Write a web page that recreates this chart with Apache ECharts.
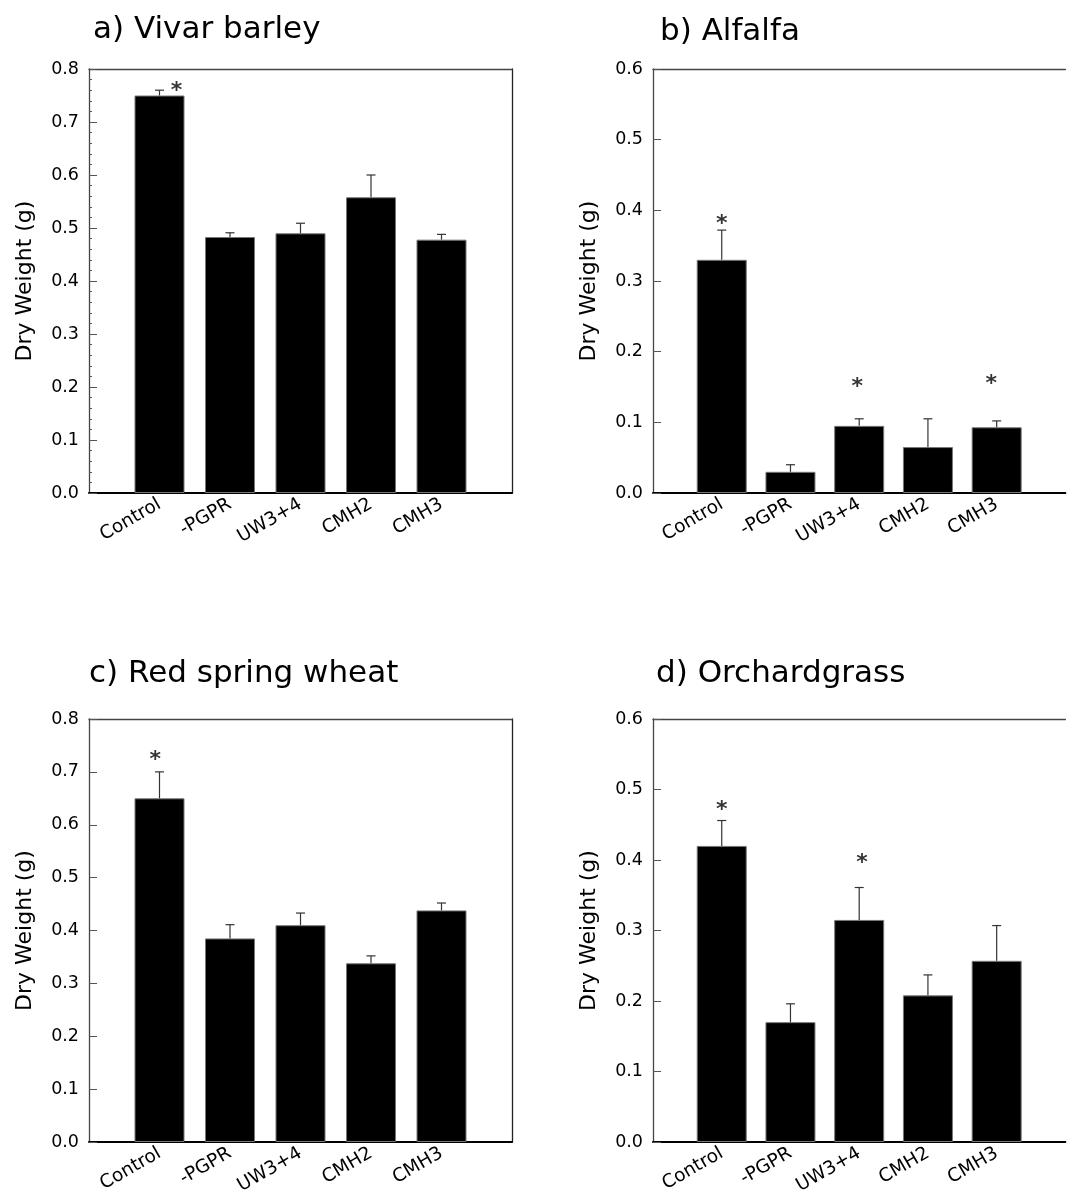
<!DOCTYPE html>
<html>
<head>
<meta charset="utf-8">
<script src="https://cdn.jsdelivr.net/npm/echarts@6/dist/echarts.min.js"></script>
<style>
html,body{margin:0;padding:0;background:#fff;overflow:hidden;}
#chart{width:1068px;height:1199px;}
</style>
</head>
<body>
<div id="chart"></div>
<script>
// ---- data ----
var categories = ['Control', '-PGPR', 'UW3+4', 'CMH2', 'CMH3'];
var panelTitles = ['a) Vivar barley', 'b) Alfalfa', 'c) Red spring wheat', 'd) Orchardgrass'];
var yMaxes = [0.8, 0.6, 0.8, 0.6];
var barleyMean = [0.750, 0.483, 0.490, 0.558, 0.478];
var barleyUpper = [0.760, 0.491, 0.509, 0.600, 0.488];
var alfalfaMean = [0.330, 0.030, 0.095, 0.065, 0.093];
var alfalfaUpper = [0.372, 0.040, 0.105, 0.105, 0.102];
var wheatMean = [0.650, 0.385, 0.410, 0.338, 0.438];
var wheatUpper = [0.700, 0.411, 0.433, 0.352, 0.452];
var orchardMean = [0.420, 0.170, 0.315, 0.208, 0.257];
var orchardUpper = [0.456, 0.196, 0.361, 0.237, 0.307];
// significance asterisks: [position on category scale (1 = Control), y value]
var barleyStars = [[1.24, 0.768]];
var alfalfaStars = [[1.0, 0.388], [2.97, 0.157], [4.92, 0.161]];
var wheatStars = [[0.94, 0.732]];
var orchardStars = [[1.0, 0.478], [3.04, 0.402]];

var means = [barleyMean, alfalfaMean, wheatMean, orchardMean];
var uppers = [barleyUpper, alfalfaUpper, wheatUpper, orchardUpper];
var stars = [barleyStars, alfalfaStars, wheatStars, orchardStars];

// ---- layout ----
var FONT = 'DejaVu Sans';
var grids = [
  {left: 89, top: 69, width: 423, height: 424},
  {left: 653, top: 69, width: 420, height: 424},
  {left: 89, top: 719, width: 423, height: 423},
  {left: 653, top: 719, width: 420, height: 423}
];
var titlePos = [
  {left: 93, top: 14},
  {left: 660, top: 16},
  {left: 89, top: 658},
  {left: 656, top: 658}
];
var hasRightBorder = [true, false, true, false];
var hasMinor = [true, false, false, false];

var option = {
  backgroundColor: '#fff',
  animation: false,
  title: [], grid: [], xAxis: [], yAxis: [], series: []
};

for (var i = 0; i < 4; i++) {
  option.title.push({
    text: panelTitles[i], left: titlePos[i].left, top: titlePos[i].top, padding: 0,
    textStyle: {fontFamily: FONT, fontSize: 31, fontWeight: 'normal', color: '#000'}
  });
  option.grid.push({
    left: grids[i].left, top: grids[i].top, width: grids[i].width, height: grids[i].height,
    show: false
  });
  option.xAxis.push({
    type: 'value', gridIndex: i, min: 0, max: 6, interval: 1, position: 'bottom',
    axisLine: {show: true, onZero: false, lineStyle: {color: '#000', width: 2}},
    axisTick: {show: false},
    splitLine: {show: false},
    axisLabel: {
      show: true, rotate: 30, margin: 10, color: '#000', fontFamily: FONT, fontSize: 18.5,
      showMinLabel: true, showMaxLabel: true,
      formatter: function (v) {
        var k = Math.round(v);
        return (k >= 1 && k <= 5) ? categories[k - 1] : '';
      }
    }
  });
  // top border as a second x axis
  option.xAxis.push({
    type: 'value', gridIndex: i, min: 0, max: 6, position: 'top',
    axisLine: {show: true, onZero: false, lineStyle: {color: '#444', width: 1.3}},
    axisTick: {show: false}, axisLabel: {show: false}, splitLine: {show: false}
  });
  option.yAxis.push({
    type: 'value', gridIndex: i, min: 0, max: yMaxes[i], interval: 0.1, position: 'left',
    name: 'Dry Weight (g)', nameLocation: 'middle', nameGap: 53,
    nameTextStyle: {fontFamily: FONT, fontSize: 22, color: '#000'},
    axisLine: {show: true, onZero: false, lineStyle: {color: '#444', width: 1.3}},
    axisTick: {show: true, inside: true, length: 8, lineStyle: {color: '#555', width: 1}},
    minorTick: {show: hasMinor[i], splitNumber: 5, length: 3, lineStyle: {color: '#555', width: 1}},
    splitLine: {show: false},
    axisLabel: {
      margin: 10, color: '#000', fontFamily: FONT, fontSize: 17.5,
      formatter: function (v) { return v.toFixed(1); }
    }
  });
  option.yAxis.push({
    type: 'value', gridIndex: i, min: 0, max: yMaxes[i], position: 'right',
    axisLine: {show: hasRightBorder[i], onZero: false, lineStyle: {color: '#222', width: 1.3}},
    axisTick: {show: false}, axisLabel: {show: false}, splitLine: {show: false}
  });

  var barData = [], errData = [];
  for (var j = 0; j < categories.length; j++) {
    barData.push([j + 1, means[i][j]]);
    errData.push([j + 1, means[i][j], uppers[i][j]]);
  }
  option.series.push({
    type: 'bar', xAxisIndex: 2 * i, yAxisIndex: 2 * i, data: barData, barWidth: 50,
    itemStyle: {color: '#000', borderColor: '#777', borderWidth: 1}, z: 2,
    silent: true
  });
  option.series.push({
    type: 'custom', xAxisIndex: 2 * i, yAxisIndex: 2 * i, data: errData, z: 3, silent: true,
    renderItem: function (params, api) {
      var x = api.value(0);
      var p1 = api.coord([x, api.value(1)]);
      var p2 = api.coord([x, api.value(2)]);
      var st = {stroke: '#333', lineWidth: 1.2};
      return {
        type: 'group',
        children: [
          {type: 'line', shape: {x1: p1[0], y1: p1[1], x2: p2[0], y2: p2[1]}, style: st},
          {type: 'line', shape: {x1: p2[0] - 4.5, y1: p2[1], x2: p2[0] + 4.5, y2: p2[1]}, style: st}
        ]
      };
    }
  });
  option.series.push({
    type: 'scatter', xAxisIndex: 2 * i, yAxisIndex: 2 * i, data: stars[i], z: 4, silent: true,
    symbolSize: 1, itemStyle: {color: 'rgba(0,0,0,0)'},
    label: {show: true, position: 'inside', formatter: '*', color: '#000',
      fontFamily: FONT, fontSize: 22, fontWeight: 'bold', offset: [0, 5]}
  });
}

var chart = echarts.init(document.getElementById('chart'), null, {renderer: 'canvas'});
chart.setOption(option);
</script>
</body>
</html>
